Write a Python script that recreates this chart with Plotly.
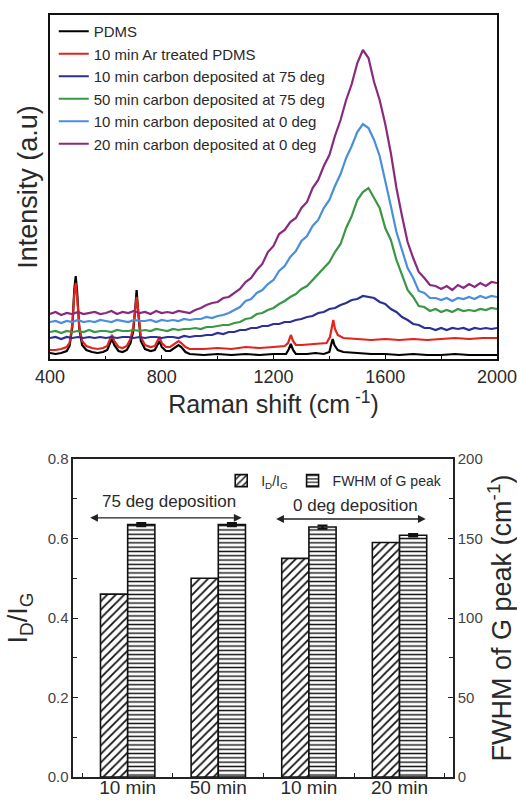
import plotly.graph_objects as go

# ---------------- top panel data (Raman spectra, arbitrary intensity) ----------------
wn_pdms = [400, 420, 440, 460, 470, 480, 487, 492, 497, 505, 515, 530, 550, 570, 590, 605, 615, 622,
           630, 645, 660, 675, 688, 698, 705, 710, 716, 725, 740, 760, 775, 785, 792, 800, 815, 830,
           845, 860, 870, 885, 900, 950, 1000, 1050, 1100, 1150, 1200, 1245, 1255, 1262, 1270, 1280,
           1320, 1350, 1380, 1400, 1406, 1412, 1418, 1430, 1450, 1500, 1550, 1600, 1650, 1700, 1750,
           1800, 1850, 1900, 1950, 2000]
pdms = [6, 5, 6, 8, 13, 32, 70, 83, 68, 30, 14, 9, 7, 6, 7, 9, 16, 20,
        14, 8, 7, 9, 16, 28, 50, 69, 46, 18, 10, 8, 9, 14, 18, 12, 8, 8,
        11, 14, 12, 7, 5, 4, 5, 4, 5, 4, 5, 5, 10, 15, 9, 5,
        5, 6, 5, 7, 14, 20, 14, 9, 7, 6, 5, 5, 4, 5, 4,
        4, 5, 4, 4, 4]

wn_ar = [400, 420, 440, 460, 470, 480, 487, 492, 497, 505, 515, 530, 550, 570, 590, 605, 615, 622,
         630, 645, 660, 675, 688, 698, 705, 710, 716, 725, 740, 760, 775, 785, 792, 800, 815, 830,
         845, 860, 870, 885, 900, 950, 1000, 1050, 1100, 1150, 1200, 1240, 1252, 1262, 1270, 1280,
         1300, 1350, 1390, 1402, 1410, 1414, 1420, 1430, 1450, 1500, 1550, 1600, 1650, 1700, 1750,
         1800, 1850, 1900, 1950, 2000]
ar_pdms = [9, 9, 10, 12, 16, 35, 65, 76, 62, 32, 18, 13, 11, 10, 11, 13, 20, 24,
           18, 12, 11, 13, 20, 32, 50, 62, 48, 22, 14, 12, 13, 18, 22, 16, 12, 12,
           15, 18, 16, 12, 10, 10, 11, 10, 12, 11, 12, 13, 16, 24, 18, 14,
           14, 15, 16, 22, 36, 39, 30, 24, 21, 20, 19, 20, 19, 20, 19,
           20, 21, 20, 21, 21]

wn = [400, 420, 440, 460, 480, 500, 520, 540, 560, 580, 600, 620, 640, 660, 680, 700, 720, 740, 760,
      780, 800, 820, 840, 860, 880, 900, 920, 940, 960, 980, 1000, 1020, 1040, 1060, 1080, 1100,
      1120, 1140, 1160, 1180, 1200, 1220, 1240, 1260, 1280, 1300, 1320, 1340, 1360, 1380, 1400,
      1420, 1440, 1460, 1480, 1500, 1520, 1540, 1560, 1580, 1600, 1620, 1640, 1660, 1680, 1700,
      1720, 1740, 1760, 1780, 1800, 1820, 1840, 1860, 1880, 1900, 1920, 1940, 1960, 1980, 2000]

c10_75 = [21, 22, 20, 22, 21, 22, 21, 22, 21, 22, 21, 22, 21, 22, 22, 21, 22, 21, 22,
          22, 21, 22, 22, 21, 23, 22, 23, 23, 24, 24, 26, 25, 27, 27, 29, 29,
          31, 31, 33, 33, 35, 35, 37, 37, 39, 40, 42, 43, 46, 47, 50,
          51, 54, 56, 59, 60, 63, 62, 61, 57, 55, 50, 47, 42, 39, 35,
          34, 31, 31, 29, 31, 29, 31, 30, 31, 29, 31, 30, 31, 30, 31]

c50_75 = [27, 28, 26, 28, 27, 28, 27, 29, 27, 28, 28, 27, 29, 28, 28, 29, 28, 29, 28,
          30, 29, 28, 30, 29, 30, 30, 31, 30, 32, 32, 33, 34, 34, 36, 37, 40,
          41, 45, 46, 49, 51, 55, 58, 62, 65, 70, 73, 79, 84, 91, 97,
          107, 115, 131, 143, 159, 167, 171, 161, 151, 131, 119, 99, 85, 69, 62,
          53, 52, 48, 50, 47, 49, 47, 50, 48, 49, 48, 50, 49, 51, 50]

c10_0 = [37, 38, 36, 38, 37, 39, 37, 38, 37, 39, 38, 37, 39, 38, 37, 39, 38, 38, 39,
         37, 39, 38, 39, 38, 40, 39, 40, 40, 42, 41, 43, 44, 46, 49, 52, 58,
         60, 66, 69, 75, 79, 88, 93, 102, 108, 118, 123, 133, 139, 151, 159,
         173, 185, 201, 213, 227, 235, 231, 219, 203, 179, 153, 127, 109, 91, 81,
         68, 66, 61, 61, 59, 61, 58, 61, 60, 62, 60, 63, 61, 63, 62]

c20_0 = [45, 47, 44, 46, 45, 47, 45, 46, 47, 45, 46, 48, 45, 47, 46, 48, 46, 47, 45,
         48, 46, 47, 46, 48, 47, 46, 49, 51, 54, 56, 57, 61, 62, 66, 70, 77,
         81, 89, 95, 107, 113, 125, 129, 137, 141, 151, 157, 171, 179, 193, 204,
         223, 239, 259, 275, 296, 309, 301, 277, 259, 235, 206, 171, 143, 117, 101,
         87, 81, 74, 73, 70, 73, 69, 74, 71, 75, 72, 76, 73, 77, 76]

spectra_names = ["PDMS", "10 min Ar treated PDMS", "10 min carbon deposited at 75 deg",
                 "50 min carbon deposited at 75 deg", "10 min carbon deposited at 0 deg",
                 "20 min carbon deposited at 0 deg"]
spectra_x = [wn_pdms, wn_ar, wn, wn, wn, wn]
spectra_y = [pdms, ar_pdms, c10_75, c50_75, c10_0, c20_0]
spectra_colors = ["#000000", "#e2241d", "#2c2f96", "#3b9646", "#4a8fdc", "#8a2a7e"]

# ---------------- bottom panel data ----------------
groups = [0, 1, 2, 3]
group_labels = ["10 min", "50 min", "10 min", "20 min"]
id_ig = [0.46, 0.50, 0.55, 0.59]
fwhm = [158.7, 158.7, 157.2, 152.0]
fwhm_err = [1.0, 1.0, 1.0, 0.8]

TXT = "#2a2a2a"
FONT = "Liberation Sans, Arial, sans-serif"

fig = go.Figure()

for name, xs, ys, col in zip(spectra_names, spectra_x, spectra_y, spectra_colors):
    fig.add_trace(go.Scatter(x=xs, y=ys, mode="lines", name=name,
                             line=dict(color=col, width=2.2),
                             xaxis="x", yaxis="y", legend="legend"))

fig.add_trace(go.Bar(x=groups, y=id_ig, name="I<sub>D</sub>/I<sub>G</sub>",
                     xaxis="x2", yaxis="y2", offsetgroup="a", legend="legend2",
                     marker=dict(color="white", line=dict(color="#111", width=1.6),
                                 pattern=dict(shape="/", fgcolor="#111", bgcolor="white",
                                              size=6, solidity=0.3))))
fig.add_trace(go.Bar(x=groups, y=fwhm, name="FWHM of G peak",
                     xaxis="x2", yaxis="y3", offsetgroup="b", legend="legend2",
                     error_y=dict(type="data", array=fwhm_err, color="#111", thickness=2, width=5),
                     marker=dict(color="white", line=dict(color="#111", width=1.6),
                                 pattern=dict(shape="-", fgcolor="#111", bgcolor="white",
                                              size=4.3, solidity=0.33))))

W, H = 517, 800
top_dom_x = [50 / W, 497 / W]
top_dom_y = [1 - 359 / H, 1 - 15 / H]
bot_dom_x = [73.3 / W, 453 / W]
bot_dom_y = [1 - 777 / H, 1 - 459 / H]

fig.update_layout(
    template="none",
    width=W, height=H,
    margin=dict(l=0, r=0, t=0, b=0, pad=0),
    paper_bgcolor="white", plot_bgcolor="white",
    font=dict(family=FONT, color=TXT),
    barmode="group", bargap=0.4, bargroupgap=0,
    xaxis=dict(domain=top_dom_x, anchor="y", range=[400, 2000], automargin=False,
               tickmode="linear", tick0=400, dtick=400, ticklabeloverflow="allow",
               ticks="inside", ticklen=4, tickwidth=1.2, tickcolor="#111",
               minor=dict(dtick=200, ticks="inside", ticklen=3, tickcolor="#111"),
               showline=True, linecolor="#111", linewidth=2, mirror=True,
               showgrid=False, zeroline=False,
               tickfont=dict(size=18, color=TXT),
               title=dict(text="Raman shift (cm<sup> -1</sup>)", font=dict(size=25, color=TXT),
                          standoff=8)),
    yaxis=dict(domain=top_dom_y, anchor="x", range=[0, 344], automargin=False,
               showticklabels=False, ticks="",
               showline=True, linecolor="#111", linewidth=2, mirror=True,
               showgrid=False, zeroline=False,
               title=dict(text="Intensity (a.u)", font=dict(size=27, color=TXT), standoff=3)),
    xaxis2=dict(domain=bot_dom_x, anchor="y2", range=[-0.6, 3.59], automargin=False,
                tickmode="array", tickvals=groups, ticktext=group_labels, ticks="",
                ticklen=0, ticklabelstandoff=-8, ticklabeloverflow="allow",
                minor=dict(tickmode="array", tickvals=[-0.5, 0.5, 1.5, 2.5, 3.5],
                           ticks="inside", ticklen=4, tickcolor="#222"),
                showline=True, linecolor="#222", linewidth=1.5, mirror=True,
                showgrid=False, zeroline=False,
                tickfont=dict(size=19, color=TXT)),
    yaxis2=dict(domain=bot_dom_y, anchor="x2", range=[0, 0.8], automargin=False,
                tickmode="linear", tick0=0, dtick=0.2, tickformat=".1f",
                ticks="inside", ticklen=5, tickcolor="#222", ticklabeloverflow="allow",
                minor=dict(dtick=0.1, ticks="inside", ticklen=4, tickcolor="#222"),
                showline=True, linecolor="#222", linewidth=1.5,
                showgrid=False, zeroline=False,
                tickfont=dict(size=15, color="#444"),
                title=dict(text="I<sub>D</sub>/I<sub>G</sub>", font=dict(size=27, color=TXT),
                           standoff=12)),
    yaxis3=dict(overlaying="y2", side="right", anchor="x2", range=[0, 200], automargin=False,
                tickmode="linear", tick0=0, dtick=50, ticklabeloverflow="allow",
                ticks="inside", ticklen=5, tickcolor="#222",
                minor=dict(dtick=25, ticks="inside", ticklen=4, tickcolor="#222"),
                showline=True, linecolor="#222", linewidth=1.5,
                showgrid=False, zeroline=False,
                tickfont=dict(size=15, color="#444"),
                title=dict(text="FWHM of G peak (cm<sup>-1</sup>)", font=dict(size=27, color=TXT),
                           standoff=3)),
    legend=dict(x=0.104, y=1 - 15 / H, xanchor="left", yanchor="top",
                bgcolor="rgba(0,0,0,0)", font=dict(size=15, color=TXT),
                traceorder="normal"),
    legend2=dict(orientation="h", x=0.865, y=1 - 465 / H, xanchor="right", yanchor="top",
                 bgcolor="rgba(0,0,0,0)", font=dict(size=14, color=TXT)),
    showlegend=True,
)

# double-headed arrows and their labels
fig.add_annotation(x=1.258, y=0.652, ax=-0.431, ay=0.652, xref="x2", yref="y2",
                   axref="x2", ayref="y2", text="", showarrow=True, arrowhead=2,
                   startarrowhead=2, arrowside="end+start", arrowsize=1.2, arrowwidth=1.3,
                   arrowcolor="#222")
fig.add_annotation(x=3.289, y=0.649, ax=1.622, ay=0.649, xref="x2", yref="y2",
                   axref="x2", ayref="y2", text="", showarrow=True, arrowhead=2,
                   startarrowhead=2, arrowside="end+start", arrowsize=1.2, arrowwidth=1.3,
                   arrowcolor="#222")
fig.add_annotation(x=0.452, y=0.693, xref="x2", yref="y2", text="75 deg deposition",
                   showarrow=False, font=dict(size=17, color=TXT))
fig.add_annotation(x=2.516, y=0.684, xref="x2", yref="y2", text="0 deg deposition",
                   showarrow=False, font=dict(size=17, color=TXT))

fig.write_html("out.html")
